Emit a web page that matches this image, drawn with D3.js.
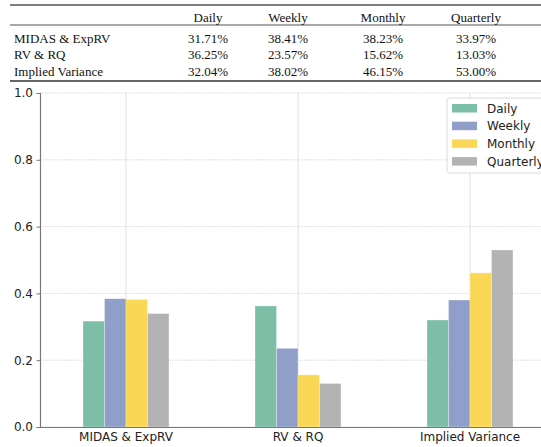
<!DOCTYPE html>
<html><head><meta charset="utf-8">
<script src="https://cdn.jsdelivr.net/npm/d3@7"></script>
<style>body{margin:0;background:#fff;} svg{display:block;}</style>
</head><body>
<svg id="c" width="541" height="447"></svg>
<script>
const categories = ["MIDAS & ExpRV", "RV & RQ", "Implied Variance"];
const seriesNames = ["Daily", "Weekly", "Monthly", "Quarterly"];
const daily = [0.3171, 0.3625, 0.3204];
const weekly = [0.3841, 0.2357, 0.3802];
const monthly = [0.3823, 0.1562, 0.4615];
const quarterly = [0.3397, 0.1303, 0.5300];
const tableRows = ["MIDAS & ExpRV", "RV & RQ", "Implied Variance"];
const tableValues = [
  ["31.71%", "38.41%", "38.23%", "33.97%"],
  ["36.25%", "23.57%", "15.62%", "13.03%"],
  ["32.04%", "38.02%", "46.15%", "53.00%"]
];
const yTicks = [0, 0.2, 0.4, 0.6, 0.8, 1.0];
const colors = ["#7cbfa6", "#909fca", "#fad856", "#b3b3b3"];

(function () {
const series = [daily, weekly, monthly, quarterly];
const svg = d3.select("#c");

// ---- table ----
const serif = "'Liberation Serif','Times New Roman',Times,serif";
const colCenters = [208, 288, 383, 476];
svg.append("line").attr("x1", 10).attr("x2", 541).attr("y1", 5).attr("y2", 5).attr("stroke", "#555").attr("stroke-width", 1.6);
svg.append("line").attr("x1", 10).attr("x2", 541).attr("y1", 25).attr("y2", 25).attr("stroke", "#555").attr("stroke-width", 1.1);
svg.append("line").attr("x1", 10).attr("x2", 541).attr("y1", 81).attr("y2", 81).attr("stroke", "#333").attr("stroke-width", 1.4);
seriesNames.forEach((s, i) => {
  svg.append("text").attr("x", colCenters[i]).attr("y", 21.5).attr("text-anchor", "middle")
    .style("font-family", serif).style("font-size", "13px").attr("fill", "#111").text(s);
});
const rowY = [43, 59, 75.5];
tableRows.forEach((r, j) => {
  svg.append("text").attr("x", 14).attr("y", rowY[j]).style("font-family", serif)
    .style("font-size", "13px").attr("fill", "#111").text(r);
  tableValues[j].forEach((v, i) => {
    svg.append("text").attr("x", colCenters[i]).attr("y", rowY[j]).attr("text-anchor", "middle")
      .style("font-family", serif).style("font-size", "13px").attr("fill", "#111").text(v);
  });
});

// ---- chart ----
const sans = "'DejaVu Sans', sans-serif";
const pL = 40, pR = 556, pT = 93, pB = 427;
const x = d3.scaleBand().domain(categories).range([pL, pR]).paddingInner(0).paddingOuter(0);
const y = d3.scaleLinear().domain([0, 1]).range([pB, pT]);
const groupW = x.bandwidth() * 0.5;
const xs = d3.scaleBand().domain(seriesNames).range([0, groupW]);

const g = svg.append("g");
g.selectAll(".hg").data(yTicks).join("line")
  .attr("x1", pL).attr("x2", pR).attr("y1", d => y(d)).attr("y2", d => y(d))
  .attr("stroke", "#c8c8c8").attr("stroke-width", 0.8).attr("stroke-dasharray", "1.2,1.2");
g.selectAll(".vg").data(categories).join("line")
  .attr("x1", d => x(d) + x.bandwidth() / 2).attr("x2", d => x(d) + x.bandwidth() / 2)
  .attr("y1", pT).attr("y2", pB).attr("stroke", "#dcdcdc").attr("stroke-width", 0.9);

series.forEach((vals, si) => {
  g.selectAll(".b" + si).data(categories).join("rect")
    .attr("x", (d, i) => x(d) + x.bandwidth() / 2 - groupW / 2 + xs(seriesNames[si]))
    .attr("width", xs.bandwidth())
    .attr("y", (d, i) => y(vals[i]))
    .attr("height", (d, i) => pB - y(vals[i]))
    .attr("fill", colors[si]).attr("stroke", "#ffffff").attr("stroke-opacity", 0.5).attr("stroke-width", 0.6);
});

const yAxis = d3.axisLeft(y).tickValues(yTicks).tickFormat(d3.format(".1f")).tickSize(3.5).tickPadding(3.5);
const ya = svg.append("g").attr("transform", `translate(${pL},0)`).call(yAxis);
ya.select(".domain").attr("stroke", "#777").attr("stroke-width", 1.2);
ya.selectAll(".tick line").attr("stroke", "#777");
ya.selectAll("text").style("font-family", sans).style("font-size", "12px").attr("fill", "#222");

const xAxis = d3.axisBottom(x).tickSize(0).tickPadding(5);
const xa = svg.append("g").attr("transform", `translate(0,${pB})`).call(xAxis);
xa.select(".domain").attr("stroke", "#777").attr("stroke-width", 1.2);
xa.selectAll("text").style("font-family", sans).style("font-size", "12px").attr("fill", "#222");

const lg = svg.append("g");
lg.append("rect").attr("x", 447).attr("y", 98).attr("width", 110).attr("height", 75)
  .attr("rx", 3).attr("fill", "#fff").attr("fill-opacity", 0.85).attr("stroke", "#d0d0d0").attr("stroke-width", 0.8);
seriesNames.forEach((s, i) => {
  const yy = 104 + i * 17.7;
  lg.append("rect").attr("x", 452).attr("y", yy).attr("width", 25).attr("height", 8.5).attr("fill", colors[i]);
  lg.append("text").attr("x", 487).attr("y", yy + 8.5).style("font-family", sans).style("font-size", "12px")
    .attr("fill", "#222").text(s);
});
})();
</script>
</body></html>
